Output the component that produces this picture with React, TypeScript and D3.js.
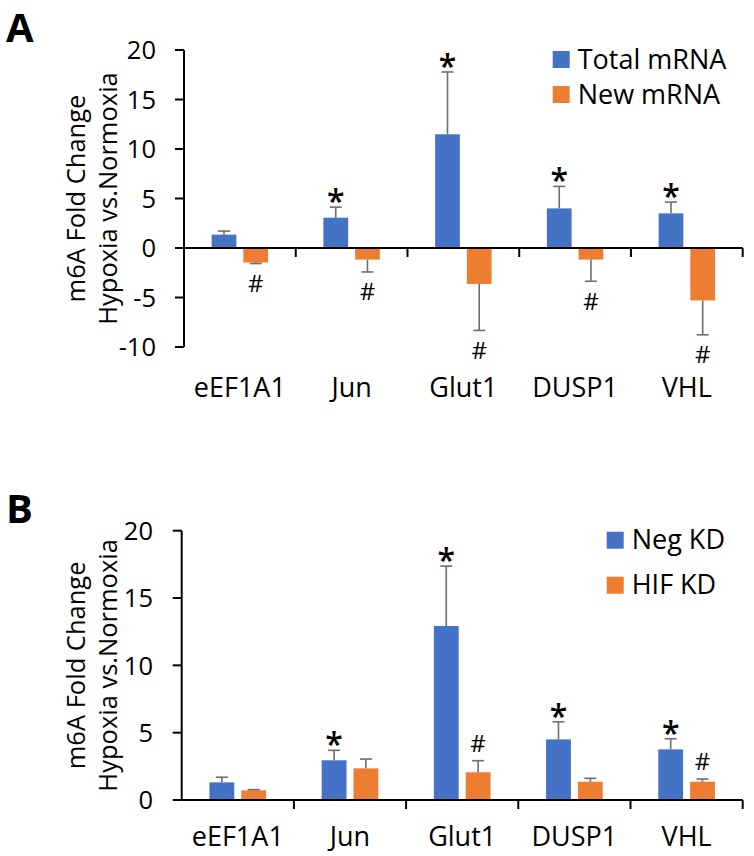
import React from "react";
import * as d3 from "d3";

const categories = ["eEF1A1", "Jun", "Glut1", "DUSP1", "VHL"];

// Panel A
const totalMRNA = [1.35, 3.06, 11.49, 4.0, 3.5];
const totalMRNAErr = [0.36, 1.07, 6.29, 2.22, 1.14];
const newMRNA = [-1.47, -1.17, -3.63, -1.17, -5.3];
const newMRNAErr = [0.1, 1.25, 4.7, 2.19, 3.47];
const totalMarks = ["", "*", "*", "*", "*"];
const newMarks = ["#", "#", "#", "#", "#"];
const yTicksA = [-10, -5, 0, 5, 10, 15, 20];

// Panel B
const negKD = [1.31, 2.95, 12.92, 4.5, 3.76];
const negKDErr = [0.38, 0.74, 4.45, 1.31, 0.79];
const hifKD = [0.72, 2.35, 2.06, 1.36, 1.36];
const hifKDErr = [0.05, 0.69, 0.86, 0.25, 0.2];
const negMarks = ["", "*", "*", "*", "*"];
const hifMarks = ["", "", "#", "", "#"];
const yTicksB = [0, 5, 10, 15, 20];

const BLUE = "#4472C4";
const ORANGE = "#ED7D31";
const ERR = "#6E6E6E";
const FONT = "'Open Sans', sans-serif";

type Series = { name: string; color: string; values: number[]; errs: number[]; marks: string[] };

type PanelProps = {
  letter: string;
  letterY: number;
  x0: number;
  x1: number;
  yTop: number;
  yBottom: number;
  domain: [number, number];
  ticks: number[];
  tickLabelX: number;
  titleX1: number;
  titleX2: number;
  labelBaseline: number;
  series: Series[];
  legendX: number;
  legendY: number[];
  markMode: "A" | "B";
};

function Panel(p: PanelProps) {
  const y = d3.scaleLinear().domain(p.domain).range([p.yBottom, p.yTop]);
  const x = d3.scaleBand<string>().domain(categories).range([p.x0, p.x1]).padding(0);
  const bw = x.bandwidth();
  const groupW = bw * 0.505;
  const inner = d3
    .scaleBand<number>()
    .domain([0, 1])
    .range([-groupW / 2, groupW / 2])
    .paddingInner(0.22)
    .paddingOuter(0);
  const y0 = y(0);
  const titleMid = (y(p.domain[0]) + y(p.domain[1])) / 2;
  const cap = 6;
  return (
    <g>
      <text x={6} y={p.letterY} fontFamily={FONT} fontWeight={700} fontSize={40} fill="#000">
        {p.letter}
      </text>
      {/* y title */}
      <g fontFamily={FONT} fontSize={25.5} fill="#000" textAnchor="middle">
        <text transform={`translate(${p.titleX1},${titleMid}) rotate(-90)`}>m6A Fold Change</text>
        <text transform={`translate(${p.titleX2},${titleMid}) rotate(-90)`}>Hypoxia vs.Normoxia</text>
      </g>
      {/* y axis */}
      <line x1={p.x0} x2={p.x0} y1={y(p.domain[0])} y2={y(p.domain[1])} stroke="#000" strokeWidth={2} />
      {p.ticks.map((t) => (
        <g key={t}>
          <line x1={p.x0 - 9} x2={p.x0} y1={y(t)} y2={y(t)} stroke="#000" strokeWidth={2} />
          <text
            x={p.tickLabelX}
            y={y(t)}
            dy="0.36em"
            textAnchor="end"
            fontFamily={FONT}
            fontSize={25.5}
            fill="#000"
          >
            {t}
          </text>
        </g>
      ))}
      {/* bars */}
      {categories.map((c, i) => {
        const cx = (x(c) as number) + bw / 2;
        return (
          <g key={c}>
            {p.series.map((s, si) => {
              const v = s.values[i];
              const e = s.errs[i];
              const bx = cx + (inner(si) as number);
              const w = inner.bandwidth();
              const top = Math.min(y(v), y0);
              const h = Math.abs(y(v) - y0);
              const ev = v >= 0 ? v + e : v - e;
              const ex = bx + w / 2;
              return (
                <g key={s.name}>
                  <rect x={bx} y={top} width={w} height={h} fill={s.color} />
                  <line x1={ex} x2={ex} y1={y(v)} y2={y(ev)} stroke={ERR} strokeWidth={1.6} />
                  <line x1={ex - cap} x2={ex + cap} y1={y(ev)} y2={y(ev)} stroke={ERR} strokeWidth={1.6} />
                </g>
              );
            })}
          </g>
        );
      })}
      {/* x axis */}
      <line x1={p.x0} x2={p.x1} y1={y0} y2={y0} stroke="#000" strokeWidth={2} />
      {categories.map((c) => (
        <line
          key={c}
          x1={(x(c) as number) + bw}
          x2={(x(c) as number) + bw}
          y1={y0}
          y2={y0 + 9}
          stroke="#000"
          strokeWidth={2}
        />
      ))}
      {/* significance marks */}
      {categories.map((c, i) => {
        const cx = (x(c) as number) + bw / 2;
        return (
          <g key={c} fontFamily={FONT} fill="#000">
            {p.series.map((s, si) => {
              const m = s.marks[i];
              if (!m) return null;
              const v = s.values[i];
              const e = s.errs[i];
              const ev = v >= 0 ? v + e : v - e;
              const ex = cx + (inner(si) as number) + inner.bandwidth() / 2;
              let baseline: number;
              if (m === "*") baseline = y(ev) - 11 + 17;
              else if (p.markMode === "A") baseline = y(ev) + 20 + 8.5;
              else baseline = y(ev) - 17 + 8.5;
              return (
                <text
                  key={s.name}
                  x={ex}
                  y={baseline}
                  textAnchor="middle"
                  fontSize={m === "*" ? 32 : 24}
                  fontWeight={m === "*" ? 600 : 400}
                >
                  {m}
                </text>
              );
            })}
          </g>
        );
      })}
      {/* category labels */}
      {categories.map((c) => (
        <text
          key={c}
          x={(x(c) as number) + bw / 2}
          y={p.labelBaseline}
          textAnchor="middle"
          fontFamily={FONT}
          fontSize={27}
          fill="#000"
        >
          {c}
        </text>
      ))}
      {/* legend */}
      {p.series.map((s, si) => (
        <g key={s.name}>
          <rect x={p.legendX} y={p.legendY[si]} width={17} height={17} fill={s.color} />
          <text x={p.legendX + 25} y={p.legendY[si] + 17.5} fontFamily={FONT} fontSize={27} fill="#000">
            {s.name}
          </text>
        </g>
      ))}
    </g>
  );
}

export default function App() {
  return (
    <svg
      width={754}
      height={856}
      style={{ position: "absolute", left: 0, top: 0, background: "#fff" }}
    >
      <rect width={754} height={856} fill="#fff" />
      <Panel
        letter="A"
        letterY={42}
        x0={184}
        x1={742.7}
        yTop={50}
        yBottom={347}
        domain={[-10, 20]}
        ticks={yTicksA}
        tickLabelX={156}
        titleX1={85}
        titleX2={117}
        labelBaseline={397}
        series={[
          { name: "Total mRNA", color: BLUE, values: totalMRNA, errs: totalMRNAErr, marks: totalMarks },
          { name: "New mRNA", color: ORANGE, values: newMRNA, errs: newMRNAErr, marks: newMarks },
        ]}
        legendX={552.7}
        legendY={[51, 86]}
        markMode="A"
      />
      <Panel
        letter="B"
        letterY={523}
        x0={181.7}
        x1={742.7}
        yTop={530.7}
        yBottom={800}
        domain={[0, 20]}
        ticks={yTicksB}
        tickLabelX={153}
        titleX1={85}
        titleX2={117}
        labelBaseline={846}
        series={[
          { name: "Neg KD", color: BLUE, values: negKD, errs: negKDErr, marks: negMarks },
          { name: "HIF KD", color: ORANGE, values: hifKD, errs: hifKDErr, marks: hifMarks },
        ]}
        legendX={606.7}
        legendY={[531.7, 576.7]}
        markMode="B"
      />
    </svg>
  );
}
